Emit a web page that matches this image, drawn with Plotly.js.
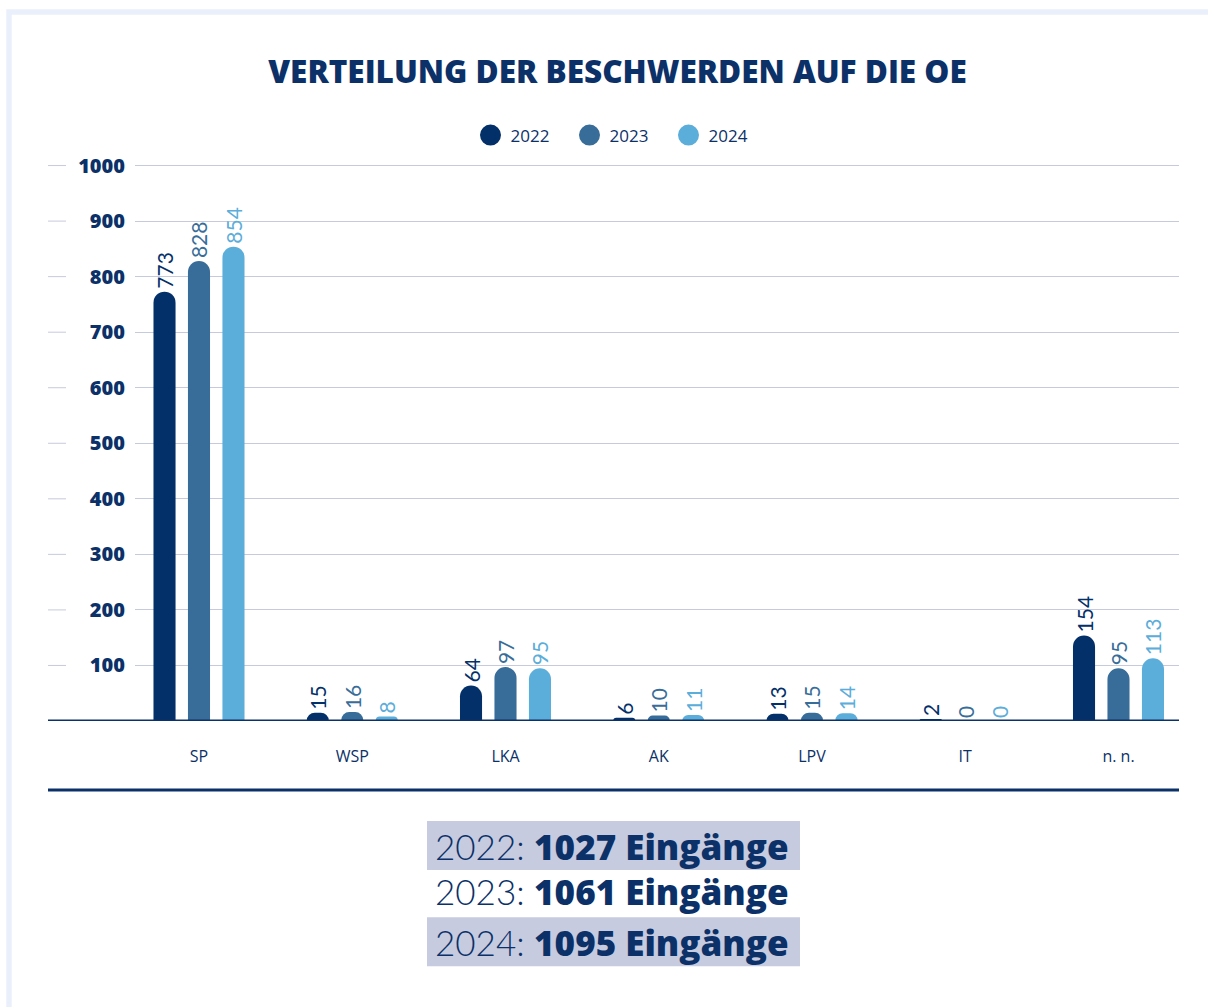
<!DOCTYPE html>
<html>
<head>
<meta charset="utf-8">
<script src="https://cdn.plot.ly/plotly-3.0.1.min.js"></script>
<style>html,body{margin:0;padding:0;background:#fff;} #chart{width:1208px;height:1007px;}</style>
</head>
<body>
<div id="chart"></div>
<script>
// ---- data ----
const categories = ['SP', 'WSP', 'LKA', 'AK', 'LPV', 'IT', 'n. n.'];
const seriesNames = ['2022', '2023', '2024'];
const values2022 = [773, 15, 64, 6, 13, 2, 154];
const values2023 = [828, 16, 97, 10, 15, 0, 95];
const values2024 = [854, 8, 95, 11, 14, 0, 113];
const yTickValues = [100, 200, 300, 400, 500, 600, 700, 800, 900, 1000];
const yTickLabels = ['100', '200', '300', '400', '500', '600', '700', '800', '900', '1000'];
const totalYears = ['2022', '2023', '2024'];
const totalCounts = [1027, 1061, 1095];
const chartTitle = 'VERTEILUNG DER BESCHWERDEN AUF DIE OE';
const totalSuffix = 'Eingänge';

// ---- style ----
const colors = ['#04306a', '#386d99', '#5badda'];
const navy = '#0b3168';
const gridColor = '#c6cadd';
const boxColor = '#c7cbdf';

const W = 1208, H = 1007, B = 286;
const yMax = 1010;
const pxPerUnit = 0.555;
const T = (H - B) - yMax * pxPerUnit;
const L = 135, R = 29;
const PW = W - L - R, PH = H - T - B;
const xp = px => (px - L) / PW;
const yp = py => (H - B - py) / PH;

const seriesValues = [values2022, values2023, values2024];
const traces = [];
seriesValues.forEach((vals, i) => {
  traces.push({
    type: 'bar',
    x: categories,
    y: vals,
    name: seriesNames[i],
    showlegend: false,
    marker: {color: colors[i], cornerradius: '50%'},
    texttemplate: '%{y}',
    textposition: 'outside',
    textangle: -90,
    constraintext: 'none',
    cliponaxis: false,
    textfont: {family: 'Lato', size: 21, weight: 400, color: colors[i]},
    hoverinfo: 'x+y+name'
  });
});
// legend entries with round symbols
seriesNames.forEach((n, i) => {
  traces.push({
    type: 'scatter', mode: 'markers', x: [null], y: [null], name: n,
    marker: {color: colors[i], size: 16, line: {color: colors[i], width: 8}},
    hoverinfo: 'skip'
  });
});

const shapes = [];
// frame
shapes.push({type: 'rect', xref: 'paper', yref: 'paper', x0: xp(9), x1: xp(1240), y0: yp(12.5), y1: yp(1040),
  line: {color: '#e9f0fb', width: 5.5}, fillcolor: 'rgba(0,0,0,0)', layer: 'below'});
// short grid segments left of labels
yTickValues.forEach(v => {
  shapes.push({type: 'line', xref: 'paper', yref: 'y', x0: xp(48), x1: xp(66), y0: v, y1: v,
    line: {color: gridColor, width: 1}, layer: 'below'});
});
// x axis line
shapes.push({type: 'line', xref: 'paper', yref: 'y', x0: xp(48), x1: xp(1179), y0: 0, y1: 0,
  line: {color: navy, width: 3}, layer: 'above'});
// separator line
shapes.push({type: 'line', xref: 'paper', yref: 'paper', x0: xp(48), x1: xp(1179), y0: yp(790), y1: yp(790),
  line: {color: navy, width: 3}});
// total boxes
shapes.push({type: 'rect', xref: 'paper', yref: 'paper', x0: xp(427), x1: xp(800), y0: yp(821), y1: yp(870),
  line: {width: 0}, fillcolor: boxColor, layer: 'below'});
shapes.push({type: 'rect', xref: 'paper', yref: 'paper', x0: xp(427), x1: xp(800), y0: yp(917), y1: yp(966),
  line: {width: 0}, fillcolor: boxColor, layer: 'below'});

const rowCenters = [846, 891, 942];
const annotations = totalYears.map((yr, i) => ({
  xref: 'paper', yref: 'paper', x: xp(612), y: yp(rowCenters[i]), xanchor: 'center', yanchor: 'middle',
  showarrow: false,
  text: yr + ': <span style="font-family:\'Open Sans\';font-weight:800">' + totalCounts[i] + ' ' + totalSuffix + '</span>',
  font: {family: 'Lato', size: 35, weight: 300, color: navy}
}));

const layout = {
  width: W, height: H,
  margin: {l: L, r: R, t: T, b: B, pad: 0},
  paper_bgcolor: '#ffffff', plot_bgcolor: '#ffffff',
  title: {text: chartTitle, x: 617.5 / W, xref: 'container', xanchor: 'center',
    y: 1 - 72 / H, yref: 'container', yanchor: 'middle',
    font: {family: 'Open Sans', size: 31.5, weight: 800, color: navy}},
  barmode: 'group', bargap: 0.325, bargroupgap: 0.36,
  xaxis: {type: 'category', range: [-0.4176, 6.3948], showgrid: false, showline: false, zeroline: false,
    ticks: '', ticklabelstandoff: 24, tickfont: {family: 'Open Sans', size: 16, color: navy}, fixedrange: true},
  yaxis: {range: [0, yMax], tickvals: yTickValues, ticktext: yTickLabels, showgrid: true, gridcolor: gridColor,
    gridwidth: 1, zeroline: false, showline: false, ticks: '', ticklabelstandoff: 9,
    tickfont: {family: 'Open Sans', size: 20, weight: 800, color: navy}, fixedrange: true},
  legend: {orientation: 'h', x: xp(619), xanchor: 'center', y: yp(136), yanchor: 'middle',
    font: {family: 'Open Sans', size: 17, color: navy}, itemsizing: 'trace', traceorder: 'normal',
    itemwidth: 30, entrywidth: 54, entrywidthmode: 'pixels', bgcolor: 'rgba(0,0,0,0)'},
  shapes: shapes,
  annotations: annotations,
  showlegend: true
};

Plotly.newPlot('chart', traces, layout, {displayModeBar: false, responsive: false});
</script>
</body>
</html>
